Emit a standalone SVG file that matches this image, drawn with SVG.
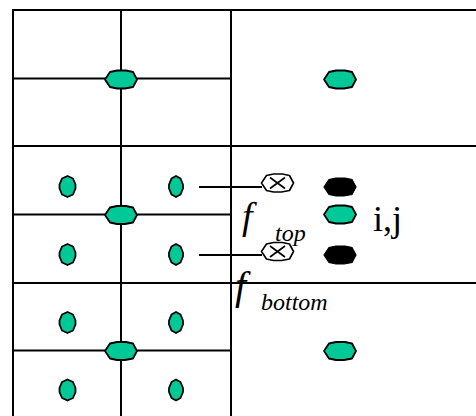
<svg xmlns="http://www.w3.org/2000/svg" width="476" height="416" viewBox="0 0 476 416">
<style>
.grid{stroke:#000;stroke-width:2;fill:none}
.g{fill:#00c896;stroke:#000;stroke-width:1.8;stroke-linejoin:round}
.b{fill:#000;stroke:#000;stroke-width:1.2}
.x{fill:#fff;stroke:#000;stroke-width:1.6;stroke-linejoin:round}
.t{font-family:"Liberation Serif","Times New Roman",serif;fill:#000}
.i{font-style:italic}
</style>
<defs>
<path id="h" d="M-16,0 L-11,-7.5 L-4,-9 L5,-9 L12,-7.5 L16,0 L12,7.5 L4,9 L-4,9 L-11,7.5 Z"/>
<path id="v" d="M0,-10.5 L5.5,-8 L8,-2 L8,2 L5.5,8 L0,10.5 L-5.5,8 L-8,2 L-8,-2 L-5.5,-8 Z"/>
<path id="vn" d="M0,-10.5 L4.5,-8 L7,-2 L7,2 L4.5,8 L0,10.5 L-4.5,8 L-7,2 L-7,-2 L-4.5,-8 Z"/>
</defs>
<rect width="476" height="416" fill="#fff"/>
<g id="grid" class="grid">
<path d="M13,416 V10 H476"/>
<path d="M121,10 V416 M231,10 V416"/>
<path d="M13,78.5 H231 M13,146 H476 M13,214.5 H231 M13,283 H476 M13,350.5 H231"/>
</g>
<g id="connectors" class="grid">
<path d="M199,187 H262 M199,255 H262"/>
</g>
<g id="n1"><use href="#h" class="g" x="121" y="79.5"/></g>
<g id="n2"><use href="#h" class="g" x="340" y="79.5"/></g>
<g id="n3"><use href="#v" class="g" x="67.5" y="186.5"/></g>
<g id="n4"><use href="#vn" class="g" x="176" y="186.5"/></g>
<g id="n5"><use href="#h" class="g" x="121" y="215"/></g>
<g id="n6"><use href="#v" class="g" x="67.5" y="254.5"/></g>
<g id="n7"><use href="#vn" class="g" x="176" y="254.5"/></g>
<g id="n8"><use href="#v" class="g" x="67.5" y="322.5"/></g>
<g id="n9"><use href="#vn" class="g" x="176" y="322.5"/></g>
<g id="n10"><use href="#h" class="g" x="121" y="351"/></g>
<g id="n11"><use href="#h" class="g" x="340" y="351"/></g>
<g id="n12"><use href="#v" class="g" x="67.5" y="390"/></g>
<g id="n13"><use href="#vn" class="g" x="176" y="390"/></g>
<g id="ftop-node"><use href="#h" class="x" x="277.5" y="183"/><path d="M270,177.5 L285,188.5 M270,188.5 L285,177.5" stroke="#000" stroke-width="1.6"/></g>
<g id="fbottom-node"><use href="#h" class="x" x="277.5" y="251.5"/><path d="M270,246 L285,257 M270,257 L285,246" stroke="#000" stroke-width="1.6"/></g>
<g id="b1"><use href="#h" class="b" x="340" y="187"/></g>
<g id="ij"><use href="#h" class="g" x="340" y="214.5"/></g>
<g id="b2"><use href="#h" class="b" x="340" y="255"/></g>
<g id="labels">
<text class="t i" x="242" y="229" font-size="38">f</text>
<text class="t i" x="275" y="241" font-size="24">top</text>
<text class="t i" x="235" y="299" font-size="40">f</text>
<text class="t i" x="261" y="310" font-size="24">bottom</text>
<text class="t" x="373" y="231" font-size="36">i,j</text>
</g>
</svg>
